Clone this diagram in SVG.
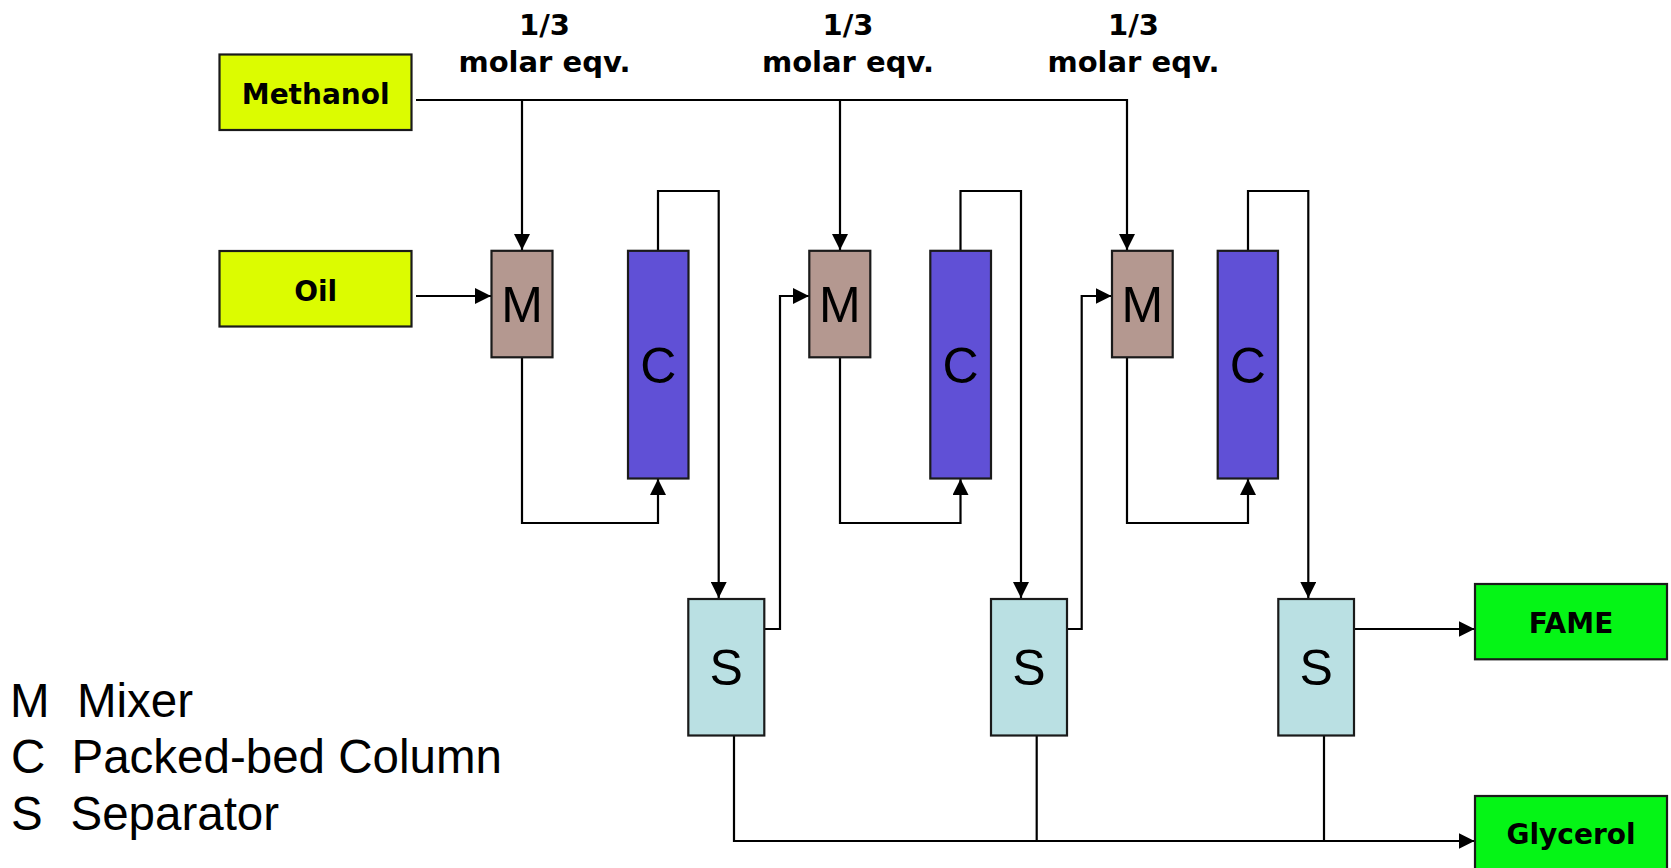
<svg xmlns="http://www.w3.org/2000/svg" width="1671" height="868" viewBox="0 0 1671 868">
<style>
.box{stroke:#1a1a1a;stroke-width:2.2}
.feed{fill:#dcfc00}
.mix{fill:#b49890}
.col{fill:#6050d6}
.sep{fill:#bae0e3}
.prod{fill:#05f516}
.bl{font-family:"DejaVu Sans",sans-serif;font-weight:bold;font-size:28px;text-anchor:middle;fill:#000}
.top{font-family:"DejaVu Sans",sans-serif;font-weight:bold;font-size:29px;text-anchor:middle;fill:#000}
.unit{font-family:"Liberation Sans",Arial,sans-serif;font-size:50px;text-anchor:middle;fill:#000}
.leg{font-family:"Liberation Sans",Arial,sans-serif;font-size:47.5px;fill:#000}
.c{fill:none;stroke:#000;stroke-width:2.2}
.a{marker-end:url(#ah)}
</style>
<defs>
<marker id="ah" markerUnits="userSpaceOnUse" markerWidth="16" markerHeight="16" viewBox="0 0 15 15" refX="15" refY="7.5" orient="auto">
<path d="M0,0 L15,7.5 L0,15 z" fill="#000"/>
</marker>
</defs>
<rect width="1671" height="868" fill="#fff"/>

<g id="labels">
<text class="top" x="544.5" y="35">1/3</text>
<text class="top" x="544.5" y="72">molar eqv.</text>
<text class="top" x="848" y="35">1/3</text>
<text class="top" x="848" y="72">molar eqv.</text>
<text class="top" x="1133.5" y="35">1/3</text>
<text class="top" x="1133.5" y="72">molar eqv.</text>
</g>

<g id="connectors">
<path class="c a" d="M416,100 H1127 V250"/>
<path class="c a" d="M522,100 V250"/>
<path class="c a" d="M840,100 V250"/>
<path class="c a" d="M416,296 H491"/>
<path class="c a" d="M522,357 V523 H658 V479"/>
<path class="c a" d="M658,251 V191 H718.7 V598"/>
<path class="c a" d="M764,629 H780 V296 H809"/>
<path class="c a" d="M840,357 V523 H960.5 V479"/>
<path class="c a" d="M960.5,251 V191 H1021 V598"/>
<path class="c a" d="M1067,629 H1081.7 V296 H1111.5"/>
<path class="c a" d="M1127,357 V523 H1248 V479"/>
<path class="c a" d="M1248,251 V191 H1308.3 V598"/>
<path class="c a" d="M1354,629 H1474.5"/>
<path class="c a" d="M734,735 V841 H1474.5"/>
<path class="c" d="M1036.7,735 V841"/>
<path class="c" d="M1324,735 V841"/>
</g>

<g id="methanol">
<rect class="box feed" x="219.5" y="54.5" width="192" height="75.5"/>
<text class="bl" x="315.7" y="104">Methanol</text>
</g>
<g id="oil">
<rect class="box feed" x="219.5" y="251" width="192" height="75.5"/>
<text class="bl" x="315.7" y="300.5">Oil</text>
</g>

<g id="mixer1">
<rect class="box mix" x="491.5" y="250.8" width="61" height="106.5"/>
<text class="unit" x="522" y="322">M</text>
</g>
<g id="column1">
<rect class="box col" x="628" y="250.8" width="60.5" height="227.7"/>
<text class="unit" x="658.2" y="383">C</text>
</g>
<g id="separator1">
<rect class="box sep" x="688.3" y="599" width="76" height="136.5"/>
<text class="unit" x="726.3" y="685">S</text>
</g>

<g id="mixer2">
<rect class="box mix" x="809.3" y="250.8" width="61" height="106.5"/>
<text class="unit" x="839.8" y="322">M</text>
</g>
<g id="column2">
<rect class="box col" x="930.3" y="250.8" width="60.7" height="227.7"/>
<text class="unit" x="960.6" y="383">C</text>
</g>
<g id="separator2">
<rect class="box sep" x="991" y="599" width="76" height="136.5"/>
<text class="unit" x="1029" y="685">S</text>
</g>

<g id="mixer3">
<rect class="box mix" x="1112" y="250.8" width="60.7" height="106.5"/>
<text class="unit" x="1142.3" y="322">M</text>
</g>
<g id="column3">
<rect class="box col" x="1217.7" y="250.8" width="60.3" height="227.7"/>
<text class="unit" x="1247.9" y="383">C</text>
</g>
<g id="separator3">
<rect class="box sep" x="1278.3" y="599" width="75.7" height="136.5"/>
<text class="unit" x="1316.2" y="685">S</text>
</g>

<g id="fame">
<rect class="box prod" x="1475" y="584" width="192" height="75.3"/>
<text class="bl" x="1571" y="632.5">FAME</text>
</g>
<g id="glycerol">
<rect class="box prod" x="1475" y="796" width="192" height="80"/>
<text class="bl" x="1571" y="844">Glycerol</text>
</g>

<g id="legend">
<text class="leg" x="10" y="716.7">M</text>
<text class="leg" x="77" y="716.7">Mixer</text>
<text class="leg" x="11" y="773.3">C</text>
<text class="leg" x="71.5" y="773.3">Packed-bed Column</text>
<text class="leg" x="11" y="830">S</text>
<text class="leg" x="70.5" y="830">Separator</text>
</g>
</svg>
